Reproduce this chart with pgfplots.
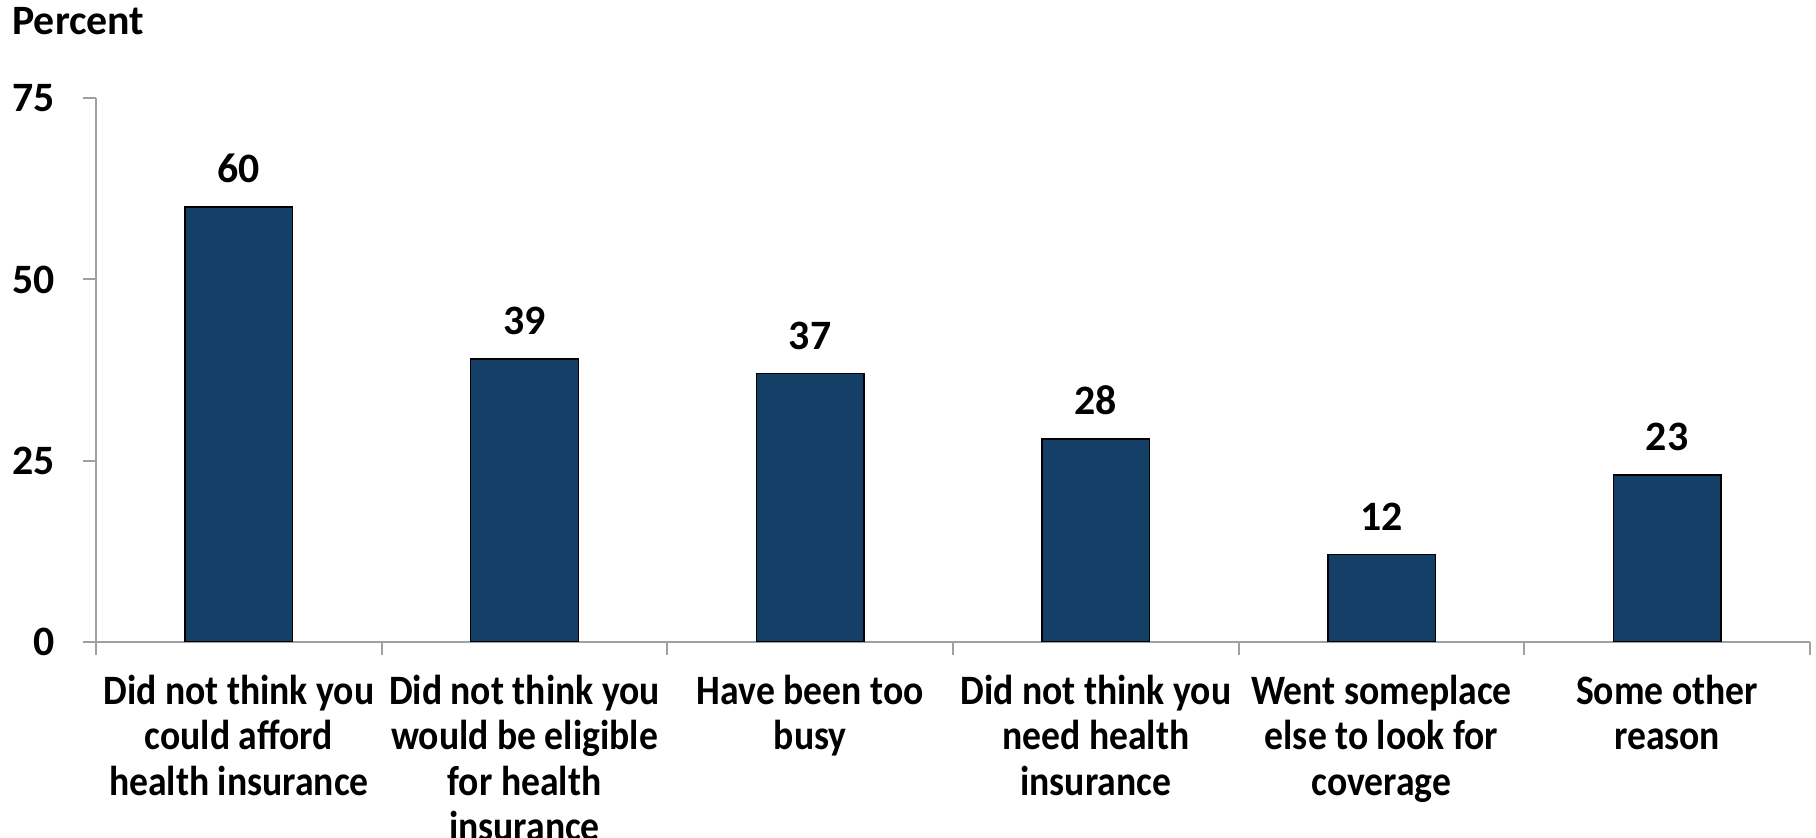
\documentclass[border=0pt]{standalone}
\usepackage{fontspec}
\setmainfont{Carlito}
\newfontfamily\narrowfont{Carlito}[FakeStretch=0.9]
\usepackage{pgfplots}
\usepackage{pgfplotstable}
\pgfplotsset{compat=1.18}
\definecolor{barblue}{RGB}{20,63,103}
\definecolor{axgray}{RGB}{160,160,160}
\pgfplotstableread{
x y
0 60
1 39
2 37
3 28
4 12
5 23
}\datatable
\begin{document}
\begin{tikzpicture}
\useasboundingbox (-24bp,-49.1bp) rectangle (430bp,160.4bp);
\node[anchor=base west, inner sep=0, font=\fontsize{10.5}{11.1}\selectfont\bfseries] at (-21.1bp,151.65bp) {Percent};
\begin{axis}[
  scale only axis,
  width=428.5bp, height=135.8bp,
  xmin=-0.5, xmax=5.5, ymin=0, ymax=75,
  ytick={0,25,50,75},
  xtick={0,...,5},
  xticklabels={{Did not think you\\could afford\\health insurance},
               {Did not think you\\would be eligible\\for health\\insurance},
               {Have been too\\busy},
               {Did not think you\\need health\\insurance},
               {Went someplace\\else to look for\\coverage},
               {Some other\\reason}},
  minor xtick={-0.5,0.5,...,5.5},
  axis x line*=bottom, axis y line*=left,
  axis line style={axgray, line width=0.5bp},
  tick align=outside,
  major tick length=3.25bp, minor tick length=3.25bp,
  major x tick style={draw=none},
  minor x tick style={axgray, line width=0.5bp},
  ytick style={axgray, line width=0.5bp},
  /pgf/number format/assume math mode=true,
  tick label style={font=\fontsize{10.5}{11.1}\selectfont\bfseries},
  xticklabel style={align=center, yshift=-1.5bp, font=\narrowfont\fontsize{10.5}{11.45}\selectfont\bfseries},
  yticklabel style={xshift=-3.5bp},
  ybar, bar width=26.9bp,
  nodes near coords,
  every node near coord/.append style={font=\fontsize{10.5}{11.1}\selectfont\bfseries, yshift=2.5bp, black},
]
\addplot[fill=barblue, draw=black, line width=0.4bp] table[x=x,y=y] {\datatable};
\end{axis}
\end{tikzpicture}
\end{document}
